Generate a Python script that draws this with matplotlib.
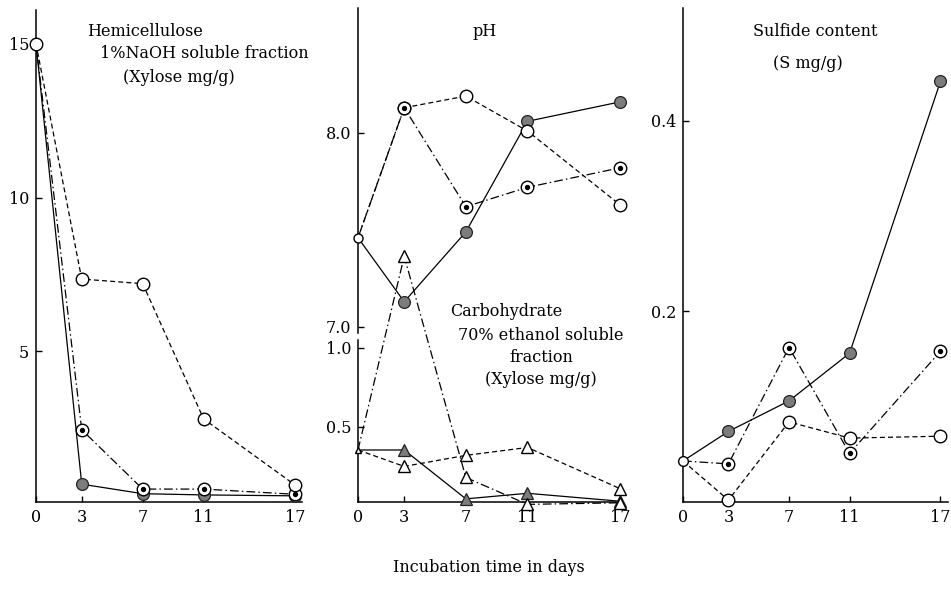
import matplotlib.pyplot as plt
import numpy as np

plt.rcParams["font.family"] = ["DejaVu Serif"]

days = [0, 3, 7, 11, 17]

# Hemicellulose, 1% NaOH soluble fraction (xylose mg/g)
hemi_open = [15.0, 7.35, 7.2, 2.8, 0.65]
hemi_dot = [15.0, 2.45, 0.52, 0.52, 0.35]
hemi_fill = [15.0, 0.68, 0.37, 0.33, 0.3]

# pH
ph_open = [7.46, 8.13, 8.19, 8.01, 7.63]
ph_dot = [7.46, 8.13, 7.62, 7.72, 7.82]
ph_fill = [7.46, 7.13, 7.49, 8.06, 8.16]

# Carbohydrate, 70% ethanol soluble fraction (xylose mg/g)
carb_open_dd = [0.354, 1.58, 0.18, 0.01, 0.02]
carb_fill = [0.354, 0.354, 0.045, 0.08, 0.03]
carb_open_dash = [0.354, 0.25, 0.32, 0.37, 0.11]

# Sulfide content (S mg/g)
sulf_fill = [0.043, 0.074, 0.106, 0.156, 0.441]
sulf_dot = [0.043, 0.040, 0.162, 0.051, 0.158]
sulf_open = [0.043, 0.002, 0.084, 0.067, 0.069]

DASH = (0, (4, 2.5))
DASHDOT = (0, (7, 2.5, 1.2, 2.5))
GREY = "#7c7c7c"
LW = 0.9
FS = 11.5


def series(ax, y, kind, ls, marker="o", ms=9):
    ax.plot(days, y, color="k", lw=LW, ls=ls, zorder=2, clip_on=False)
    x, yy = days[1:], y[1:]
    if kind == "fill":
        ax.plot(x, yy, ls="none", marker=marker, ms=ms - 0.5, mfc=GREY, mec="#222",
                mew=0.9, zorder=3, clip_on=False)
    else:
        ax.plot(x, yy, ls="none", marker=marker, ms=ms, mfc="white", mec="k",
                mew=1.0, zorder=3, clip_on=False)
        if kind == "dot":
            ax.plot(x, yy, ls="none", marker="o", ms=2.8, mfc="k", mec="k",
                    zorder=4, clip_on=False)


def origin(ax, y, marker="o", ms=7):
    ax.plot([days[0]], [y], ls="none", marker=marker, ms=ms, mfc="white",
            mec="k", mew=1.0, zorder=5, clip_on=False)


def style(ax, xmax):
    ax.set_xlim(0, xmax)
    ax.set_xticks(days)
    for s in ["top", "right"]:
        ax.spines[s].set_visible(False)
    for s in ["left", "bottom"]:
        ax.spines[s].set_linewidth(1.1)
    ax.tick_params(direction="in", length=4, width=1, labelsize=FS, pad=5)
    ax.patch.set_alpha(0)


W, H = 951, 589
fig = plt.figure(figsize=(W / 100, H / 100), dpi=100)


def rect(x0, x1, y0=8, y1=502):
    return [x0 / W, 1 - y1 / H, (x1 - x0) / W, (y1 - y0) / H]


def label(px, py, s, ha="left"):
    fig.text(px / W, 1 - py / H, s, ha=ha, va="center", fontsize=FS)


# left panel
ax1 = fig.add_axes(rect(36, 302, 10))
style(ax1, 17.45)
ax1.set_ylim(0.1, 16.1)
ax1.set_yticks([5, 10, 15])
series(ax1, hemi_fill, "fill", "-")
series(ax1, hemi_dot, "dot", DASHDOT)
series(ax1, hemi_open, "open", DASH)
origin(ax1, hemi_open[0], ms=9)
label(87, 31, "Hemicellulose")
label(100, 54, "1%NaOH soluble fraction")
label(123, 77, "(Xylose mg/g)")

# middle panel: pH and carbohydrate on one broken axis
ax2 = fig.add_axes(rect(358, 623))
style(ax2, 17.2)
ax2.set_ylim(6.098, 8.644)
ax2.set_yticks([7.0, 8.0])
ax2.set_yticklabels(["7.0", "8.0"])
ax2.spines["left"].set_bounds(6.97, 8.644)
ax2c = ax2.twinx()
ax2c.set_xlim(0, 17.2)
ax2c.set_ylim(0.025, 3.15)
ax2c.yaxis.tick_left()
ax2c.set_yticks([0.5, 1.0])
ax2c.set_yticklabels(["0.5", "1.0"])
for s in ["top", "right", "bottom"]:
    ax2c.spines[s].set_visible(False)
ax2c.spines["left"].set_visible(True)
ax2c.spines["left"].set_linewidth(1.1)
ax2c.spines["left"].set_bounds(0.025, 1.05)
ax2c.tick_params(direction="in", length=4, width=1, labelsize=FS, pad=5)

series(ax2, ph_fill, "fill", "-")
series(ax2, ph_dot, "dot", DASHDOT)
series(ax2, ph_open, "open", DASH)
origin(ax2, ph_open[0], ms=6.5)
series(ax2c, carb_fill, "fill", "-", marker="^", ms=9)
series(ax2c, carb_open_dd, "open", DASHDOT, marker="^", ms=9)
series(ax2c, carb_open_dash, "open", DASH, marker="^", ms=9)
origin(ax2c, carb_open_dash[0], marker="^", ms=5)
label(485, 32, "pH", ha="center")
label(450, 312, "Carbohydrate")
label(541, 335, "70% ethanol soluble", ha="center")
label(541, 357, "fraction", ha="center")
label(541, 380, "(Xylose mg/g)", ha="center")

# right panel
ax3 = fig.add_axes(rect(683, 948))
style(ax3, 17.5)
ax3.set_ylim(0.0, 0.518)
ax3.set_yticks([0.2, 0.4])
ax3.set_yticklabels(["0.2", "0.4"])
series(ax3, sulf_fill, "fill", "-")
series(ax3, sulf_dot, "dot", DASHDOT)
series(ax3, sulf_open, "open", DASH)
origin(ax3, sulf_open[0], ms=7)
label(815, 32, "Sulfide content", ha="center")
label(808, 63, "(S mg/g)", ha="center")

label(489, 568, "Incubation time in days", ha="center")

fig.savefig("out.png", dpi=100)
